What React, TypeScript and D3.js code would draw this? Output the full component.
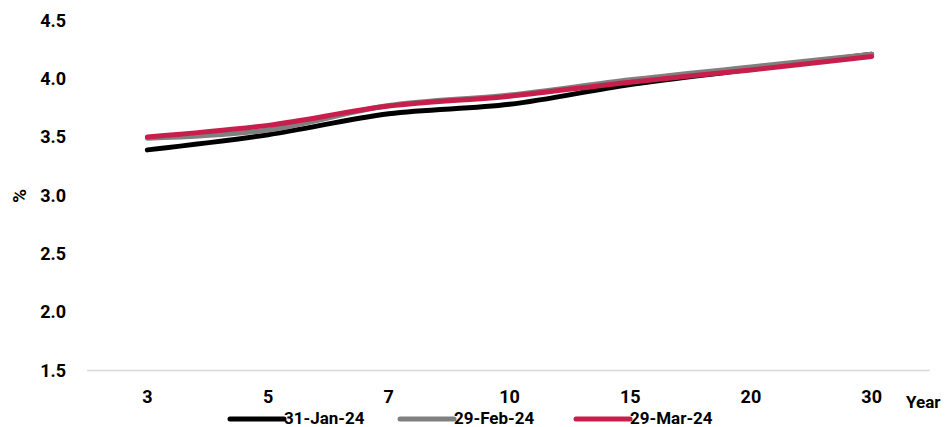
import React from "react";
import * as d3 from "d3";

const categories = ["3", "5", "7", "10", "15", "20", "30"];
const seriesNames = ["31-Jan-24", "29-Feb-24", "29-Mar-24"];
const jan24 = [3.39, 3.52, 3.70, 3.78, 3.95, 4.08, 4.21];
const feb24 = [3.49, 3.56, 3.77, 3.86, 3.99, 4.1, 4.21];
const mar24 = [3.5, 3.6, 3.765, 3.85, 3.97, 4.075, 4.19];
const yTicks = [1.5, 2.0, 2.5, 3.0, 3.5, 4.0, 4.5];
const colors = ["#000000", "#808080", "#C81E4B"];

const W = 948;
const H = 427;
const FONT = "Roboto, 'DejaVu Sans', sans-serif";

export default function App() {
  const x = d3.scaleBand<string>().domain(categories).range([87, 932]).padding(0);
  const y = d3.scaleLinear().domain([1.5, 4.5]).range([370.5, 20.3]);
  const cx = (c: string) => (x(c) as number) + x.bandwidth() / 2;
  const line = d3
    .line<number>()
    .x((_, i) => cx(categories[i]))
    .y((v) => y(v))
    .curve(d3.curveCatmullRom.alpha(0.5));
  const series = [jan24, feb24, mar24];

  const legendX = [230, 400, 576];

  return (
    <svg
      width={W}
      height={H}
      style={{ position: "absolute", left: 0, top: 0, background: "#fff" }}
      fontFamily={FONT}
      fontWeight="bold"
    >
      <line x1={87} x2={930} y1={y(1.5)} y2={y(1.5)} stroke="#d9d9d9" strokeWidth={1.5} />
      {yTicks.map((t) => (
        <text key={t} x={66} y={y(t)} dy="0.35em" textAnchor="end" fontSize={18} fill="#000">
          {t.toFixed(1)}
        </text>
      ))}
      <text
        transform={`translate(19,196) rotate(-90)`}
        textAnchor="middle"
        dy="0.35em"
        fontSize={19}
        fill="#000"
      >
        %
      </text>
      {categories.map((c) => (
        <text key={c} x={cx(c)} y={403} textAnchor="middle" fontSize={18} fill="#000">
          {c}
        </text>
      ))}
      <text x={906} y={408} fontSize={17} fill="#000">
        Year
      </text>
      {series.map((s, i) => (
        <path
          key={seriesNames[i]}
          d={line(s) as string}
          fill="none"
          stroke={colors[i]}
          strokeWidth={5}
          strokeLinecap="round"
          strokeLinejoin="round"
        />
      ))}
      {seriesNames.map((n, i) => (
        <g key={n}>
          <line
            x1={legendX[i]}
            x2={legendX[i] + 54}
            y1={419}
            y2={419}
            stroke={colors[i]}
            strokeWidth={5}
            strokeLinecap="round"
          />
          <text x={legendX[i] + 54} y={424} fontSize={17} fill="#000">
            {n}
          </text>
        </g>
      ))}
    </svg>
  );
}
